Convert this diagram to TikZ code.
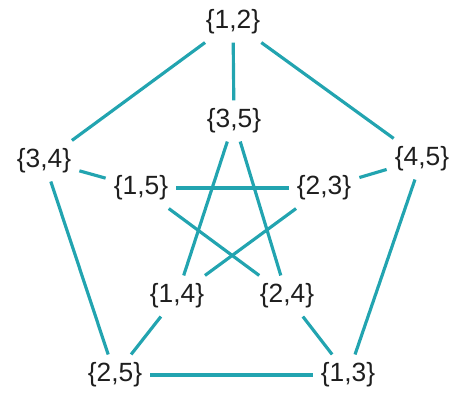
\documentclass[tikz,border=0pt]{standalone}
\usepackage{fontspec}
\setmainfont{Liberation Sans}
\usepackage{xcolor}
\definecolor{tealedge}{RGB}{34,164,176}
\definecolor{inkdark}{RGB}{30,30,30}

\begin{document}
\begin{tikzpicture}[font=\fontsize{15}{17}\selectfont,
    vtx/.style={inner sep=4.5pt, text=inkdark},
    edge/.style={tealedge, line width=1.8pt}
]
\useasboundingbox (0,0) rectangle (9.18,7.88);

% ============ outer pentagon ============
\node[vtx] (P12) at (4.66, 7.44) {\{1,2\}};
\node[vtx] (P34) at (0.88, 4.66) {\{3,4\}};
\node[vtx] (P45) at (8.44, 4.70) {\{4,5\}};
\node[vtx] (P25) at (2.30, 0.38) {\{2,5\}};
\node[vtx] (P13) at (6.96, 0.38) {\{1,3\}};

% ============ inner star ============
\node[vtx] (S35) at (4.68, 5.46) {\{3,5\}};
\node[vtx] (S15) at (2.82, 4.12) {\{1,5\}};
\node[vtx] (S23) at (6.48, 4.12) {\{2,3\}};
\node[vtx] (S14) at (3.54, 1.96) {\{1,4\}};
\node[vtx] (S24) at (5.74, 1.96) {\{2,4\}};

% Outer edges
\draw[edge] (P12)--(P34); \draw[edge] (P12)--(P45);
\draw[edge] (P34)--(P25); \draw[edge] (P45)--(P13);
\draw[edge] (P25)--(P13);

% Spokes
\draw[edge] (P12)--(S35); \draw[edge] (P34)--(S15);
\draw[edge] (P45)--(S23); \draw[edge] (P25)--(S14);
\draw[edge] (P13)--(S24);

% Star edges
\draw[edge] (S35)--(S14); \draw[edge] (S35)--(S24);
\draw[edge] (S15)--(S23); \draw[edge] (S15)--(S24);
\draw[edge] (S23)--(S14);
\end{tikzpicture}
\end{document}
